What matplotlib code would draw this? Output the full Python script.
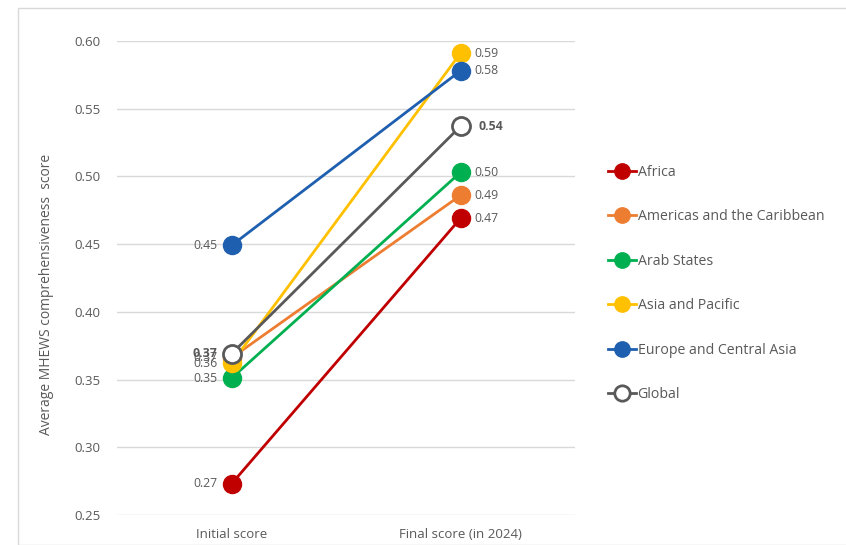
import matplotlib.pyplot as plt
from matplotlib.patches import Rectangle

plt.rcParams['font.family'] = ['Open Sans', 'DejaVu Sans']

stages = ['Initial score', 'Final score (in 2024)']
regions = ['Africa', 'Americas and the Caribbean', 'Arab States',
           'Asia and Pacific', 'Europe and Central Asia', 'Global']
initial = [0.273, 0.366, 0.351, 0.362, 0.449, 0.369]
final = [0.469, 0.486, 0.503, 0.591, 0.578, 0.537]
init_labels = ['0.27', '0.37', '0.35', '0.36', '0.45', '0.37']
final_labels = ['0.47', '0.49', '0.50', '0.59', '0.58', '0.54']
colors = ['#C00000', '#ED7D31', '#00B050', '#FFC000', '#1F5FAF', '#595959']

fig = plt.figure(figsize=(8.46, 5.45), dpi=100)
fig.patches.append(Rectangle((18 / 846, 0), 1, 1 - 8 / 545, transform=fig.transFigure,
                             fill=False, edgecolor='#D9D9D9', linewidth=1))
ax = fig.add_axes([117 / 846, 1 - 515 / 545, 458 / 846, 474 / 545])

x = [0, 1]
for i, name in enumerate(regions):
    glob = name == 'Global'
    ax.plot(x, [initial[i], final[i]], color=colors[i], linewidth=2,
            marker='o', markersize=13,
            markerfacecolor='white' if glob else colors[i],
            markeredgecolor=colors[i], markeredgewidth=2 if glob else 1,
            label=name, zorder=3 + i)
    weight = 'bold' if glob else 'normal'
    ax.annotate(init_labels[i], (0, initial[i]), xytext=(-10, 0), textcoords='offset points',
                ha='right', va='center', fontsize=8.8, color='#595959', fontweight=weight)
    ax.annotate(final_labels[i], (1, final[i]), xytext=(13 if glob else 10, 0),
                textcoords='offset points', ha='left', va='center', fontsize=8.8,
                color='#595959', fontweight=weight)

ax.set_xlim(-0.5, 1.5)
ax.set_ylim(0.25, 0.60)
ax.set_yticks([0.25, 0.30, 0.35, 0.40, 0.45, 0.50, 0.55, 0.60])
ax.set_yticklabels(['%.2f' % v for v in ax.get_yticks()])
ax.set_xticks(x)
ax.set_xticklabels(stages)
ax.tick_params(length=0, labelsize=9.5, labelcolor='#595959')
ax.tick_params(axis='y', pad=12)
ax.tick_params(axis='x', pad=9)
ax.grid(axis='y', color='#D9D9D9', linewidth=1)
ax.set_axisbelow(True)
for s in ax.spines.values():
    s.set_visible(False)
ax.set_ylabel('Average MHEWS comprehensiveness  score', fontsize=10, color='#595959')
ax.yaxis.set_label_coords(-0.138, 0.466)

fig.legend(loc='upper left', bbox_to_anchor=(595 / 846, 1 - 152 / 545), frameon=False,
           fontsize=10.2, labelcolor='#595959', handlelength=2.0, handletextpad=0.1,
           labelspacing=2.08, markerscale=0.85)

fig.savefig('out.png', dpi=100)
